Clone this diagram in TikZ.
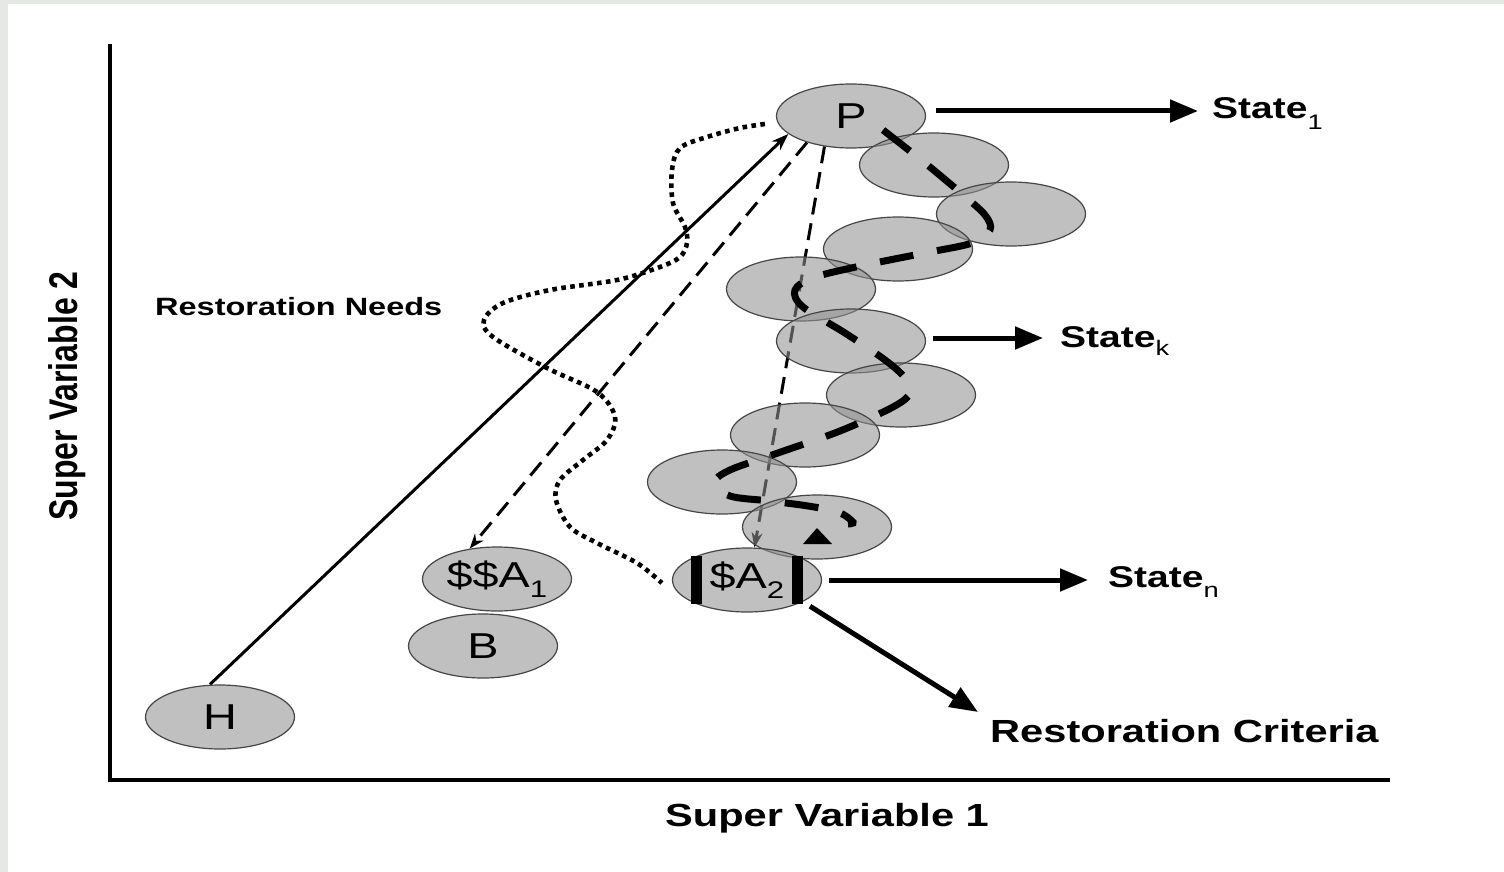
\documentclass[tikz,border=0pt]{standalone}
\usepackage{fontspec}
\setmainfont{Liberation Sans}
\usepackage{graphicx}
\usetikzlibrary{shapes.geometric,arrows.meta,calc}
\pgfdeclarelayer{back}
\pgfdeclarelayer{bg}
\pgfsetlayers{back,bg,main}
\definecolor{framegray}{RGB}{230,232,230}
\definecolor{ellfill}{RGB}{145,145,145}
\definecolor{ellline}{RGB}{70,70,70}
\newcommand{\hs}[1]{\scalebox{1.3}[1]{#1}}
\newcommand{\lowsub}[2][9pt]{\raisebox{-#1}{\fontsize{21}{21}\selectfont\mdseries #2}}
\newcommand{\ellsub}[1]{\raisebox{-10pt}{\fontsize{24}{24}\selectfont #1}}
\begin{document}
\begin{tikzpicture}[x=1pt,y=-1pt,
  ell/.style={ellipse, minimum width=149pt, minimum height=64pt, inner sep=0pt,
    fill=ellfill, fill opacity=0.57, text opacity=1, draw=ellline, draw opacity=1,
    line width=1.2pt, font=\fontsize{36}{36}\selectfont},
  lbl/.style={inner sep=0pt, font=\bfseries\fontsize{30}{30}\selectfont},
  bigarrow/.style={line width=5pt, -{Triangle[length=28pt,width=22pt]}},
  harrow/.style={line width=3pt, -{Stealth[length=17pt,width=12pt]}},
  darrow/.style={line width=3pt, dash pattern=on 17pt off 9pt, -{Stealth[length=15pt,width=11pt]}},
  dotline/.style={line width=4.6pt, dash pattern=on 4.6pt off 4.4pt},
  traj/.style={line width=7pt, dash pattern=on 34pt off 24pt},
  axis/.style={line width=4pt, line join=miter},
  bar/.style={line width=11pt}
]
\begin{pgfonlayer}{back}
  \fill[framegray] (0,0) rectangle (1504,872);
  \fill[white] (8,4) rectangle (1504,872);
\end{pgfonlayer}
\useasboundingbox (0,0) rectangle (1504,872);

% axes
\draw[axis] (110,44) -- (110,780) -- (1390,780);

% ellipses
\node[ell] (P)  at (851,116) {\hs{P}};
\node[ell] (E2) at (934,165) {};
\node[ell] (E3) at (1011,214) {};
\node[ell] (E4) at (898,249) {};
\node[ell] (E5) at (801,289) {};
\node[ell] (E6) at (851,341) {};
\node[ell] (E7) at (901,395) {};
\node[ell] (E8) at (805,435) {};
\node[ell] (E9) at (722,482) {};
\node[ell] (E10) at (817,527) {};
\node[ell] (A2) at (747,580) {\hs{\$A\ellsub{2}}};
\node[ell] (A1) at (497,579) {\hs{\$\$A\ellsub{1}}};
\node[ell] (B)  at (483,646) {\hs{B}};
\node[ell] (H)  at (220,717) {\hs{H}};

% labels
\node[lbl, anchor=base west] (S1) at (1212,119) {\hs{State\lowsub[10pt]{1}}};
\node[lbl, anchor=base west] (Sk) at (1060,347) {\hs{State\lowsub[8pt]{k}}};
\node[lbl, anchor=base west] (Sn) at (1108,587) {\hs{State\lowsub[10pt]{n}}};
\node[lbl, anchor=base west, font=\bfseries\fontsize{32}{32}\selectfont] (RC) at (990,742) {\hs{Restoration Criteria}};
\node[lbl, anchor=base west, font=\bfseries\fontsize{25}{25}\selectfont] (RN) at (155,315) {\hs{Restoration Needs}};
\node[lbl, anchor=base, font=\bfseries\fontsize{32}{32}\selectfont] (X) at (827,826) {\hs{Super Variable 1}};
\node[lbl, rotate=90, font=\bfseries\fontsize{32}{32}\selectfont] (Y) at (67,396) {\scalebox{1}[1.25]{Super Variable 2}};

% connectors under the ellipses
\begin{pgfonlayer}{bg}
  \draw[harrow] ([xshift=-10pt]H.north) -- (P.196);
  \draw[darrow] (P.211) -- (A1.132);
  \draw[darrow] (P.229) -- (A2.77);
  \draw[dotline] plot[smooth, tension=0.55] coordinates {
    ([shift={(-11pt,-8pt)}]P.west) (740,128) (707,137) (680,148) (672,170) (673,203)
    (685,227) (687,243) (680,257) (660,267) (617,280) (550,290) (503,303) (484,320)
    (493,337) (547,368) (597,392) (615,417) (607,440) (583,460) (560,480) (556,500)
    (570,527) (597,543) (637,563) ([shift={(-10pt,-3pt)}]A2.west)};
\end{pgfonlayer}

% trajectory over the ellipses
\draw[traj] plot[smooth, tension=0.55] coordinates {
  ([shift={(32pt,-14pt)}]P.center) (925,163) (962,194) (985,215) (990,230) (972,243)
  (930,252) (870,264) (815,277) (795,290) (803,307) (845,333) (885,360) (905,378)
  (910,393) (893,407) (840,431) (775,454) (730,470) (715,482) (730,496) (770,501)
  (808,506) (838,512) (853,522) ([shift={(31pt,3pt)}]E10.center)};
\fill (817,528) -- (832,544) -- (803,544) -- cycle;

% bars on $A2
\draw[bar] ([shift={(-50.5pt,24pt)}]A2.center) -- ([shift={(-50.5pt,-24pt)}]A2.center);
\draw[bar] ([shift={(50.5pt,24pt)}]A2.center) -- ([shift={(50.5pt,-24pt)}]A2.center);

% state arrows
\draw[bigarrow] ([shift={(10pt,5pt)}]P.east) -- ([shift={(-14pt,8pt)}]S1.base west);
\draw[bigarrow] ([shift={(7pt,3pt)}]E6.east) -- ([shift={(-17pt,9pt)}]Sk.base west);
\draw[bigarrow] ([xshift=7pt]A2.east) -- ([shift={(-20pt,7pt)}]Sn.base west);
\draw[bigarrow] ([shift={(8pt,-4pt)}]A2.338) -- ([shift={(-12pt,30pt)}]RC.base west);
\end{tikzpicture}
\end{document}
